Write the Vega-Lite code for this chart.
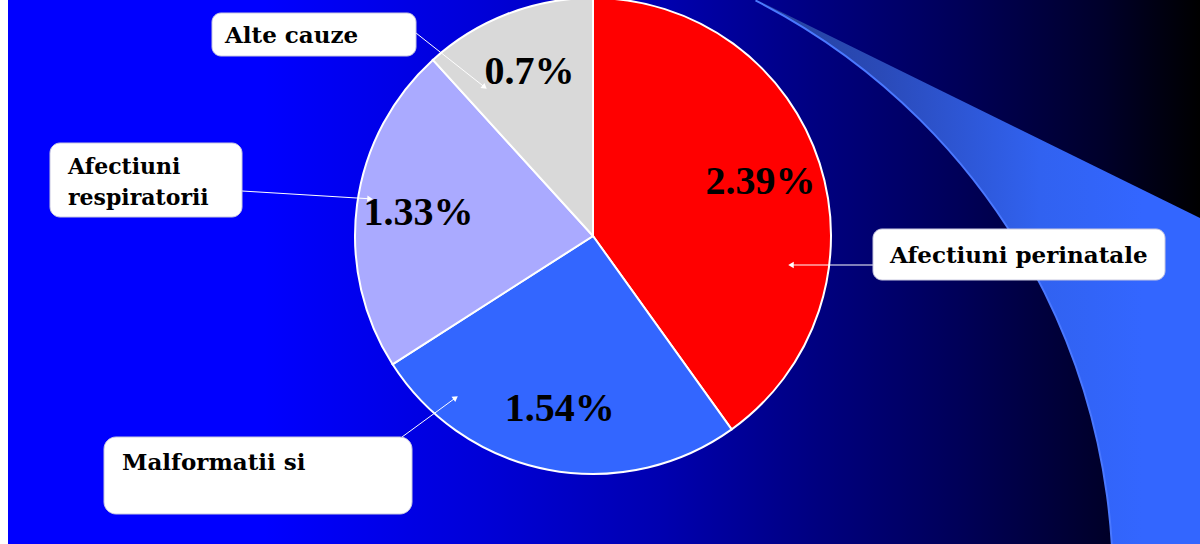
{
  "$schema": "https://vega.github.io/schema/vega-lite/v6.json",
  "width": 1200,
  "height": 544,
  "autosize": {"type": "none"},
  "padding": 0,
  "background": "#0000ff",
  "config": {"view": {"stroke": null}},
  "datasets": {
    "slices": [
      {"cause": "Afectiuni perinatale", "value": 2.39, "label": "2.39%", "callout": "Afectiuni perinatale"},
      {"cause": "Malformatii si", "value": 1.54, "label": "1.54%", "callout": "Malformatii si"},
      {"cause": "Afectiuni respiratorii", "value": 1.33, "label": "1.33%", "callout": "Afectiuni\nrespiratorii"},
      {"cause": "Alte cauze", "value": 0.7, "label": "0.7%", "callout": "Alte cauze"}
    ]
  },
  "data": {"name": "slices"},
  "layer": [
    {
      "data": {"values": [{}]},
      "mark": {
        "type": "rect",
        "fill": {
          "gradient": "linear", "x1": 0, "y1": 0, "x2": 1, "y2": 0,
          "stops": [
            {"offset": 0, "color": "#0000ff"},
            {"offset": 0.22, "color": "#0000ff"},
            {"offset": 0.4, "color": "#0000d8"},
            {"offset": 0.55, "color": "#0000b0"},
            {"offset": 0.68, "color": "#000080"},
            {"offset": 0.8, "color": "#000058"},
            {"offset": 0.92, "color": "#00002a"},
            {"offset": 1, "color": "#000000"}
          ]
        }
      },
      "encoding": {"x": {"value": 0}, "x2": {"value": "width"}, "y": {"value": 0}, "y2": {"value": "height"}}
    },
    {
      "data": {"values": [{}]},
      "mark": {"type": "rect", "fill": "#ffffff"},
      "encoding": {"x": {"value": 0}, "x2": {"value": 8}, "y": {"value": 0}, "y2": {"value": "height"}}
    },
    {
      "data": {"values": [{}]},
      "mark": {
        "type": "arc", "clip": true, "x": 458, "y": 584, "radius": 1000, "radius2": 655, "theta": 0.473, "theta2": 1.745,
        "stroke": "#4a78ff", "strokeWidth": 2,
        "fill": {
          "gradient": "linear", "x1": 0, "y1": 0, "x2": 1, "y2": 0,
          "stops": [
            {"offset": 0, "color": "#24409a"},
            {"offset": 0.176, "color": "#2a4ab8"},
            {"offset": 0.404, "color": "#3162f0"},
            {"offset": 0.55, "color": "#3366ff"},
            {"offset": 1, "color": "#3366ff"}
          ]
        }
      },
      "encoding": {}
    },
    {
      "data": {"values": [{}]},
      "mark": {
        "type": "arc", "clip": true, "x": 1400, "y": 316.4, "radius": 800, "theta": 5.1697, "theta2": 6.2832,
        "fill": {
          "gradient": "linear", "x1": 0, "y1": 0, "x2": 1, "y2": 0,
          "stops": [
            {"offset": 0, "color": "#0000a9"},
            {"offset": 0.1864, "color": "#000080"},
            {"offset": 0.387, "color": "#000058"},
            {"offset": 0.5876, "color": "#00002a"},
            {"offset": 0.7214, "color": "#000000"},
            {"offset": 1, "color": "#000000"}
          ]
        }
      },
      "encoding": {}
    },
    {
      "mark": {"type": "arc", "clip": true, "radius": 238, "stroke": "#ffffff", "strokeWidth": 2},
      "encoding": {
        "x": {"value": 593},
        "y": {"value": 236},
        "theta": {"field": "value", "type": "quantitative", "stack": true},
        "order": {"field": "value", "sort": "descending"},
        "color": {
          "field": "cause", "type": "nominal",
          "scale": {
            "domain": ["Afectiuni perinatale", "Malformatii si", "Afectiuni respiratorii", "Alte cauze"],
            "range": ["#ff0000", "#3366ff", "#aaaaff", "#d9d9d9"]
          },
          "legend": null
        }
      }
    },
    {
      "mark": {
        "type": "text", "radius": 176, "font": "Liberation Serif", "fontWeight": "bold", "fontSize": 40,
        "fill": "#000000", "align": "center", "baseline": "middle"
      },
      "encoding": {
        "x": {"value": 593},
        "y": {"value": 236},
        "theta": {"field": "value", "type": "quantitative", "stack": true},
        "order": {"field": "value", "sort": "descending"},
        "text": {"field": "label"}
      }
    },
    {
      "transform": [{"filter": "datum.cause === 'Alte cauze'"}],
      "layer": [
        {"mark": {"type": "rule", "color": "#ffffff", "strokeWidth": 1}, "encoding": {"x": {"value": 416}, "y": {"value": 33}, "x2": {"value": 484.6}, "y2": {"value": 87.1}}},
        {"mark": {"type": "point", "shape": "triangle-up", "filled": true, "color": "#ffffff", "opacity": 1, "size": 40, "angle": 128.3}, "encoding": {"x": {"value": 484.6}, "y": {"value": 87.1}}},
        {"mark": {"type": "rect", "fill": "#ffffff", "cornerRadius": 9, "stroke": "#c8c8e0", "strokeWidth": 1}, "encoding": {"x": {"value": 212}, "x2": {"value": 416}, "y": {"value": 13}, "y2": {"value": 56}}},
        {"mark": {"type": "text", "font": "DejaVu Serif", "fontWeight": "bold", "fontSize": 23, "fill": "#000000", "align": "left", "baseline": "alphabetic"}, "encoding": {"x": {"value": 225}, "y": {"value": 43}, "text": {"field": "callout"}}}
      ]
    },
    {
      "transform": [{"filter": "datum.cause === 'Afectiuni respiratorii'"}],
      "layer": [
        {"mark": {"type": "rule", "color": "#ffffff", "strokeWidth": 1}, "encoding": {"x": {"value": 242}, "y": {"value": 191}, "x2": {"value": 370}, "y2": {"value": 198.8}}},
        {"mark": {"type": "point", "shape": "triangle-up", "filled": true, "color": "#ffffff", "opacity": 1, "size": 40, "angle": 93.5}, "encoding": {"x": {"value": 370}, "y": {"value": 198.8}}},
        {"mark": {"type": "rect", "fill": "#ffffff", "cornerRadius": 10, "stroke": "#c8c8e0", "strokeWidth": 1}, "encoding": {"x": {"value": 50}, "x2": {"value": 242}, "y": {"value": 143}, "y2": {"value": 217}}},
        {"mark": {"type": "text", "font": "DejaVu Serif", "fontWeight": "bold", "fontSize": 22, "fill": "#000000", "align": "left", "baseline": "alphabetic", "lineBreak": "\n", "lineHeight": 31}, "encoding": {"x": {"value": 68}, "y": {"value": 174}, "text": {"field": "callout"}}}
      ]
    },
    {
      "transform": [{"filter": "datum.cause === 'Malformatii si'"}],
      "layer": [
        {"mark": {"type": "rule", "color": "#ffffff", "strokeWidth": 1}, "encoding": {"x": {"value": 402}, "y": {"value": 437}, "x2": {"value": 455.6}, "y2": {"value": 397.8}}},
        {"mark": {"type": "point", "shape": "triangle-up", "filled": true, "color": "#ffffff", "opacity": 1, "size": 40, "angle": 53.8}, "encoding": {"x": {"value": 455.6}, "y": {"value": 397.8}}},
        {"mark": {"type": "rect", "fill": "#ffffff", "cornerRadius": 12, "stroke": "#c8c8e0", "strokeWidth": 1}, "encoding": {"x": {"value": 104}, "x2": {"value": 412}, "y": {"value": 437}, "y2": {"value": 514}}},
        {"mark": {"type": "text", "font": "DejaVu Serif", "fontWeight": "bold", "fontSize": 23, "fill": "#000000", "align": "left", "baseline": "alphabetic"}, "encoding": {"x": {"value": 122}, "y": {"value": 470}, "text": {"field": "callout"}}}
      ]
    },
    {
      "transform": [{"filter": "datum.cause === 'Afectiuni perinatale'"}],
      "layer": [
        {"mark": {"type": "rule", "color": "#ffffff", "strokeWidth": 1}, "encoding": {"x": {"value": 873}, "y": {"value": 265}, "x2": {"value": 791}, "y2": {"value": 265}}},
        {"mark": {"type": "point", "shape": "triangle-up", "filled": true, "color": "#ffffff", "opacity": 1, "size": 40, "angle": 270}, "encoding": {"x": {"value": 791}, "y": {"value": 265}}},
        {"mark": {"type": "rect", "fill": "#ffffff", "cornerRadius": 9, "stroke": "#c8c8e0", "strokeWidth": 1}, "encoding": {"x": {"value": 873}, "x2": {"value": 1165}, "y": {"value": 229}, "y2": {"value": 280}}},
        {"mark": {"type": "text", "font": "DejaVu Serif", "fontWeight": "bold", "fontSize": 23, "fill": "#000000", "align": "left", "baseline": "alphabetic"}, "encoding": {"x": {"value": 890}, "y": {"value": 263}, "text": {"field": "callout"}}}
      ]
    }
  ]
}
